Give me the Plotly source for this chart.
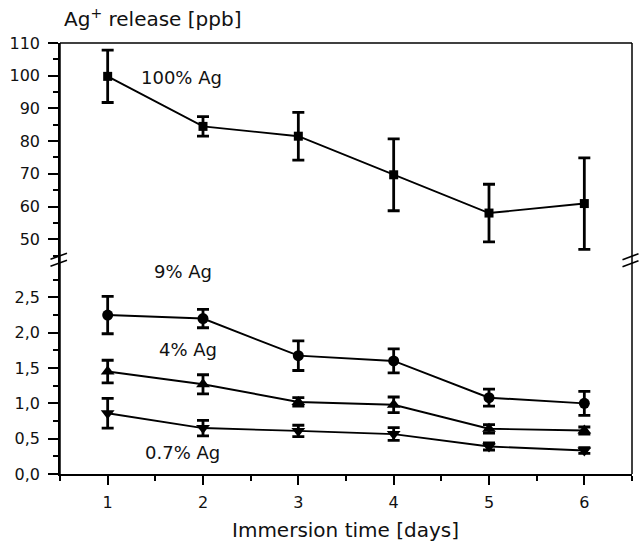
import plotly.graph_objects as go

days = [1, 2, 3, 4, 5, 6]

ag100 = [99.8, 84.5, 81.5, 69.7, 58.0, 60.9]
ag100_err = [8.0, 3.0, 7.3, 11.0, 8.8, 14.0]

ag9 = [2.25, 2.20, 1.675, 1.60, 1.08, 1.00]
ag9_err = [0.265, 0.13, 0.21, 0.17, 0.12, 0.17]

ag4 = [1.45, 1.27, 1.02, 0.98, 0.64, 0.615]
ag4_err = [0.16, 0.135, 0.06, 0.11, 0.06, 0.05]

ag07 = [0.86, 0.65, 0.61, 0.565, 0.39, 0.333]
ag07_err = [0.21, 0.11, 0.08, 0.09, 0.05, 0.04]

top_ticks = [50, 60, 70, 80, 90, 100, 110]
bottom_ticks = [0.0, 0.5, 1.0, 1.5, 2.0, 2.5]
bottom_minor = [0.25, 0.75, 1.25, 1.75, 2.25, 2.75]

FONT = "DejaVu Sans"
BLACK = "#000000"
TXT = "#111111"

fig = go.Figure()

def add_series(y, err, symbol, size, yaxis):
    fig.add_trace(go.Scatter(
        x=days, y=y, mode="lines+markers",
        line=dict(color=BLACK, width=1.9),
        marker=dict(symbol=symbol, size=size, color=BLACK),
        error_y=dict(type="data", array=err, visible=True,
                     color=BLACK, thickness=2.8, width=6),
        xaxis="x" if yaxis == "y" else "x2", yaxis=yaxis,
        showlegend=False, cliponaxis=False,
    ))

add_series(ag100, ag100_err, "square", 9, "y2")
add_series(ag9, ag9_err, "circle", 11, "y")
add_series(ag4, ag4_err, "triangle-up", 12, "y")
add_series(ag07, ag07_err, "triangle-down", 12, "y")

axis_common = dict(showgrid=False, zeroline=False, linecolor=BLACK,
                   linewidth=1.5, tickcolor=BLACK, tickwidth=1.5,
                   ticks="outside",
                   tickfont=dict(family=FONT, size=16, color=TXT))

fig.update_layout(
    width=640, height=548,
    margin=dict(l=60, r=8, t=43, b=74),
    paper_bgcolor="white", plot_bgcolor="white",
    separators=",.",
    xaxis=dict(range=[0.5, 6.5], tickvals=days, ticklen=9,
               showline=True, mirror=False,
               minor=dict(dtick=0.5, tick0=0.5, ticklen=5, tickcolor=BLACK,
                          tickwidth=1.5, ticks="outside"),
               anchor="y", ticklabelstandoff=4, **axis_common),
    xaxis2=dict(range=[0.5, 6.5], visible=False, anchor="y2",
                matches="x"),
    yaxis=dict(domain=[0, 0.5], range=[0, 3.05], tickvals=bottom_ticks,
               tickformat=".1f", ticklen=10, showline=True,
               minor=dict(tickmode="array", tickvals=bottom_minor,
                          ticklen=5, tickcolor=BLACK, tickwidth=1.5,
                          ticks="outside"),
               anchor="x", ticklabelstandoff=5, **axis_common),
    yaxis2=dict(domain=[0.5, 1], range=[44.1, 110], tickvals=top_ticks,
                ticklen=10, showline=True,
                minor=dict(dtick=5, tick0=0, ticklen=5, tickcolor=BLACK,
                           tickwidth=1.5, ticks="outside"),
                anchor="x2", ticklabelstandoff=5, **axis_common),
)

W, H = 572.0, 431.0
def px(x, y):
    return (x - 60) / W, (474.3 - y) / H

shapes = []
shapes.append(dict(type="line", xref="paper", yref="paper",
                   x0=0, x1=1, y0=1, y1=1, line=dict(color=BLACK, width=1.5)))
shapes.append(dict(type="line", xref="paper", yref="paper",
                   x0=1, x1=1, y0=0, y1=1, line=dict(color=BLACK, width=1.5)))
shapes.append(dict(type="line", xref="paper", yref="paper",
                   x0=0, x1=0, y0=0, y1=1, line=dict(color=BLACK, width=1.5)))
for (xa, ya, xb, yb) in [(50.5, 259.5, 67, 253.5), (50.5, 266.5, 67, 260.5),
                         (622.5, 260, 638.5, 254), (622.5, 267, 638.5, 261)]:
    x0, y0 = px(xa, ya)
    x1, y1 = px(xb, yb)
    shapes.append(dict(type="line", xref="paper", yref="paper",
                       x0=x0, y0=y0, x1=x1, y1=y1,
                       line=dict(color=BLACK, width=1.6)))
fig.update_layout(shapes=shapes)

ann_font = dict(family=FONT, size=18, color=TXT)
annotations = [
    dict(text="100% Ag", x=1.77, y=99.4, xref="x2", yref="y2",
         showarrow=False, font=ann_font),
    dict(text="9% Ag", x=1.79, y=2.87, xref="x", yref="y",
         showarrow=False, font=ann_font),
    dict(text="4% Ag", x=1.84, y=1.76, xref="x", yref="y",
         showarrow=False, font=ann_font),
    dict(text="0.7% Ag", x=1.79, y=0.30, xref="x", yref="y",
         showarrow=False, font=ann_font),
    dict(text="Ag<sup>+</sup> release [ppb]", x=(62 - 60) / W,
         y=(474.3 - 18) / H, xref="paper", yref="paper", xanchor="left",
         yanchor="middle", showarrow=False,
         font=dict(family=FONT, size=20, color=TXT)),
    dict(text="Immersion time [days]", x=(345.5 - 60) / W,
         y=(474.3 - 530) / H, xref="paper", yref="paper",
         xanchor="center", yanchor="middle", showarrow=False,
         font=dict(family=FONT, size=20, color=TXT)),
]
fig.update_layout(annotations=annotations)

fig.write_html("out.html", config={"displayModeBar": False})

# remove the default page margin so the figure sits at the window origin
with open("out.html", "r", encoding="utf-8") as f:
    html = f.read()
html = html.replace("<head>", "<head><style>html,body{margin:0;padding:0;overflow:hidden;}</style>", 1)
with open("out.html", "w", encoding="utf-8") as f:
    f.write(html)
